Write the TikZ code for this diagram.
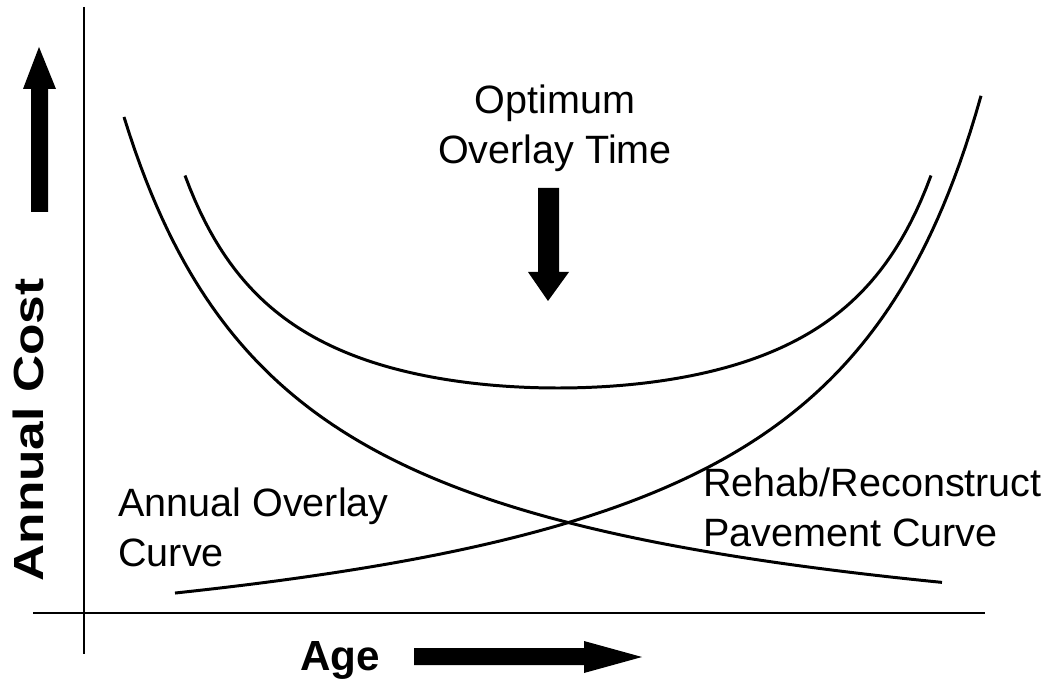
\documentclass[tikz,border=0pt]{standalone}
\usepackage{fontspec}
\setmainfont{Liberation Sans}
\usetikzlibrary{positioning}

\begin{document}
\begin{tikzpicture}[x=0.02cm,y=-0.02cm,
        curve/.style={line width=1.7pt,line join=round,samples=150},
        axis/.style={line width=1.2pt},
        fatarrow/.style={fill=black,draw=none},
        lbl/.style={inner sep=0pt,font=\fontsize{22.5}{28}\selectfont},
        title/.style={inner sep=0pt,font=\bfseries\fontsize{24}{28}\selectfont}]

    \useasboundingbox (0,0) rectangle (1059,689);

    % axes
    \coordinate (ytop) at (84,7);
    \coordinate (ybot) at (84,654);
    \coordinate (xleft) at (33,613);
    \coordinate (xright) at (985,613);
    \draw[axis,line width=1.7pt] (ytop) -- (ybot);
    \draw[axis] (xleft) -- (xright);

    % fat arrows
    \fill[fatarrow] (31,212) -- (31,89) -- (23,89) -- (39,47) -- (56,89) -- (48,89) -- (48,212) -- cycle;
    \fill[fatarrow] (538,188) -- (538,272) -- (528,272) -- (548,301) -- (569,272) -- (559,272) -- (559,188) -- cycle;
    \fill[fatarrow] (414,648) -- (584,648) -- (584,641) -- (642,657) -- (584,673) -- (584,665) -- (414,665) -- cycle;

    % rehab, overlay and total cost curves
    \draw[curve] plot[domain=124:942] (\x,{681.4-982.1/((\x+50)/100)});
    \draw[curve] plot[domain=175:981] (\x,{697.3-1016.5/((1150-\x)/100)});
    \draw[curve] plot[domain=185:931] (\x,{388-377.8*(100/(490-(\x-558))+100/(490+(\x-558))-200/490)});

    % labels
    \node[title,rotate=90,anchor=base] (cost) at (43,430) {\scalebox{1.22}[1]{Annual Cost}};
    \node[title,anchor=base] (age) at (340,670) {Age};
    \node[lbl,align=center,anchor=north] (optimum) at (555,85) {Optimum\\Overlay Time};
    \node[lbl,align=left,anchor=north west] (overlay) at (118,488) {Annual Overlay\\Curve};
    \node[lbl,align=left,anchor=north west] (rehab) at (703,468) {Rehab/Reconstruct\\Pavement Curve};
\end{tikzpicture}
\end{document}
